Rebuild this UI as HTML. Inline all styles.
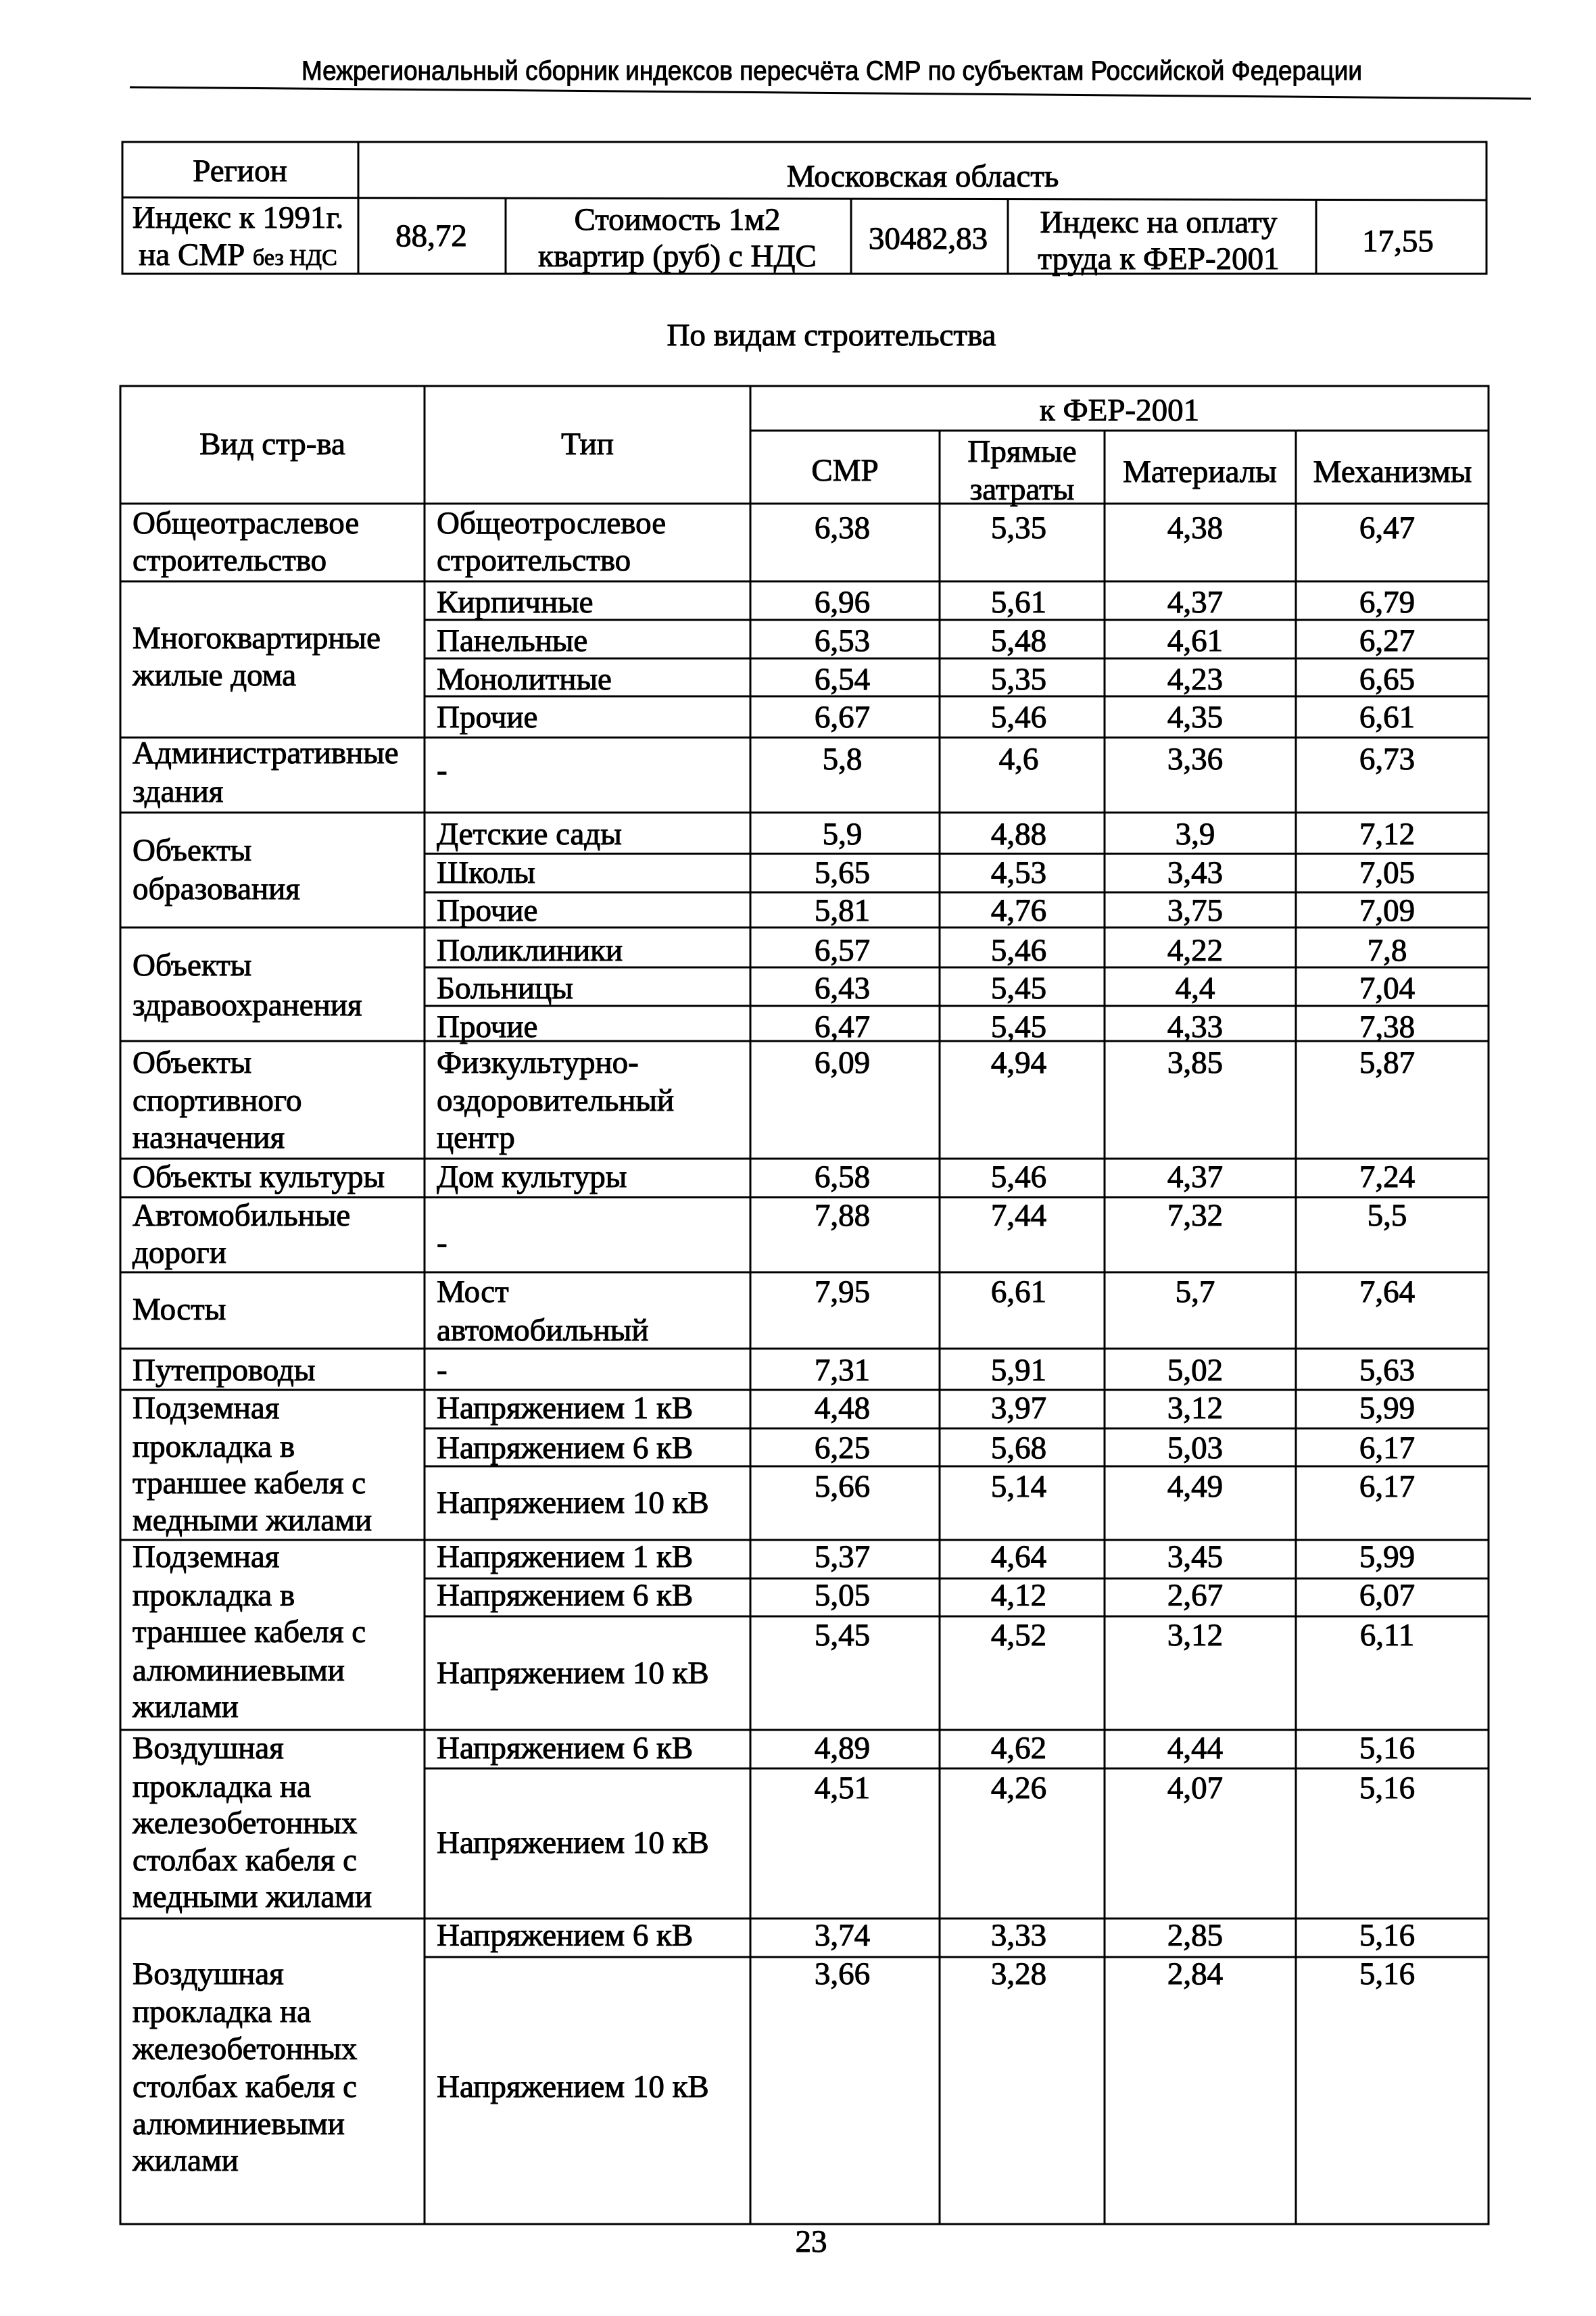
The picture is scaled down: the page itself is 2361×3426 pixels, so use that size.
<!DOCTYPE html>
<html><head><meta charset="utf-8"><style>html,body{margin:0;padding:0;background:#fff}svg{display:block}</style></head>
<body>
<svg xmlns="http://www.w3.org/2000/svg" width="2361" height="3426" viewBox="0 0 2361 3426" font-family="'Liberation Serif','Noto Serif CJK SC',serif" font-size="47" fill="#000">
<rect width="2361" height="3426" fill="#fff"/>
<g stroke="#000" stroke-width="1">
<text x="446" y="118" font-family="'Liberation Sans',sans-serif" font-size="40" textLength="1569" lengthAdjust="spacingAndGlyphs">Межрегиональный сборник индексов пересчёта СМР  по субъектам Российской Федерации</text>
</g>
<line x1="192" y1="129" x2="2265" y2="146" stroke="#000" stroke-width="3"/>
<g stroke="#000" stroke-width="3">
<rect x="181" y="210" width="2018" height="195" fill="none"/>
<line x1="181" y1="292" x2="2199" y2="296"/>
<line x1="530" y1="210" x2="530" y2="405"/>
<line x1="748" y1="294" x2="748" y2="405"/>
<line x1="1259" y1="294" x2="1259" y2="405"/>
<line x1="1491" y1="294" x2="1491" y2="405"/>
<line x1="1947" y1="294" x2="1947" y2="405"/>
</g>
<g stroke="#000" stroke-width="1">
<g text-anchor="middle">
<text x="355" y="268">Регион</text>
<text x="1365" y="276">Московская область</text>
<text x="352" y="337">Индекс к 1991г.</text>
<text x="352" y="392">на СМР <tspan font-size="34">без НДС</tspan></text>
<text x="638" y="364">88,72</text>
<text x="1002" y="340">Стоимость 1м2</text>
<text x="1002" y="394">квартир (руб) с НДС</text>
<text x="1373" y="368">30482,83</text>
<text x="1714" y="344">Индекс на оплату</text>
<text x="1714" y="398">труда к ФЕР-2001</text>
<text x="2068" y="372">17,55</text>
<text x="1230" y="511">По видам строительства</text>
</g>
</g>
<g stroke="#000" stroke-width="3" fill="none">
<rect x="178" y="571" width="2024" height="2719"/>
<line x1="628" y1="571" x2="628" y2="3290"/>
<line x1="1110" y1="571" x2="1110" y2="3290"/>
<line x1="1390" y1="637" x2="1390" y2="3290"/>
<line x1="1634" y1="637" x2="1634" y2="3290"/>
<line x1="1917" y1="637" x2="1917" y2="3290"/>
<line x1="1110" y1="637" x2="2202" y2="637"/>
<path d="M178 745H2202M178 860H2202M178 1091H2202M178 1202H2202M178 1372H2202M178 1540H2202M178 1714H2202M178 1771H2202M178 1882H2202M178 1995H2202M178 2056H2202M178 2278H2202M178 2559H2202M178 2838H2202"/>
<path d="M628 917H2202M628 974H2202M628 1030H2202M628 1263H2202M628 1320H2202M628 1431H2202M628 1488H2202M628 2113H2202M628 2169H2202M628 2335H2202M628 2391H2202M628 2616H2202M628 2895H2202"/>
</g>
<g stroke="#000" stroke-width="1">
<g text-anchor="middle">
<text x="403" y="672">Вид стр-ва</text>
<text x="869" y="672">Тип</text>
<text x="1656" y="622">к ФЕР-2001</text>
<text x="1250" y="711">СМР</text>
<text x="1512" y="683">Прямые</text>
<text x="1512" y="739">затраты</text>
<text x="1775" y="713">Материалы</text>
<text x="2060" y="713">Механизмы</text>
</g>
<g>
<text x="196" y="789">Общеотраслевое</text>
<text x="196" y="844">строительство</text>
<text x="646" y="789">Общеотрослевое</text>
<text x="646" y="844">строительство</text>
<text x="196" y="959">Многоквартирные</text>
<text x="196" y="1014">жилые дома</text>
<text x="646" y="906">Кирпичные</text>
<text x="646" y="963">Панельные</text>
<text x="646" y="1020">Монолитные</text>
<text x="646" y="1076">Прочие</text>
<text x="196" y="1129">Административные</text>
<text x="196" y="1186">здания</text>
<text x="646" y="1155">-</text>
<text x="196" y="1273">Объекты</text>
<text x="196" y="1330">образования</text>
<text x="646" y="1249">Детские сады</text>
<text x="646" y="1306">Школы</text>
<text x="646" y="1362">Прочие</text>
<text x="196" y="1443">Объекты</text>
<text x="196" y="1502">здравоохранения</text>
<text x="646" y="1421">Поликлиники</text>
<text x="646" y="1477">Больницы</text>
<text x="646" y="1534">Прочие</text>
<text x="196" y="1587">Объекты</text>
<text x="196" y="1643">спортивного</text>
<text x="196" y="1698">назначения</text>
<text x="646" y="1587">Физкультурно-</text>
<text x="646" y="1643">оздоровительный</text>
<text x="646" y="1698">центр</text>
<text x="196" y="1756">Объекты культуры</text>
<text x="646" y="1756">Дом культуры</text>
<text x="196" y="1813">Автомобильные</text>
<text x="196" y="1868">дороги</text>
<text x="646" y="1854">-</text>
<text x="196" y="1952">Мосты</text>
<text x="646" y="1926">Мост</text>
<text x="646" y="1983">автомобильный</text>
<text x="196" y="2042">Путепроводы</text>
<text x="646" y="2042">-</text>
<text x="196" y="2098">Подземная</text>
<text x="196" y="2155">прокладка в</text>
<text x="196" y="2209">траншее кабеля с</text>
<text x="196" y="2264">медными жилами</text>
<text x="646" y="2098">Напряжением 1 кВ</text>
<text x="646" y="2157">Напряжением 6 кВ</text>
<text x="646" y="2238">Напряжением 10 кВ</text>
<text x="196" y="2318">Подземная</text>
<text x="196" y="2375">прокладка в</text>
<text x="196" y="2429">траншее кабеля  с</text>
<text x="196" y="2486">алюминиевыми</text>
<text x="196" y="2540">жилами</text>
<text x="646" y="2318">Напряжением 1 кВ</text>
<text x="646" y="2375">Напряжением 6 кВ</text>
<text x="646" y="2490">Напряжением 10 кВ</text>
<text x="196" y="2601">Воздушная</text>
<text x="196" y="2658">прокладка на</text>
<text x="196" y="2712">железобетонных</text>
<text x="196" y="2767">столбах кабеля с</text>
<text x="196" y="2821">медными жилами</text>
<text x="646" y="2601">Напряжением 6 кВ</text>
<text x="646" y="2741">Напряжением 10 кВ</text>
<text x="196" y="2935">Воздушная</text>
<text x="196" y="2991">прокладка на</text>
<text x="196" y="3046">железобетонных</text>
<text x="196" y="3102">столбах кабеля с</text>
<text x="196" y="3157">алюминиевыми</text>
<text x="196" y="3211">жилами</text>
<text x="646" y="2878">Напряжением 6 кВ</text>
<text x="646" y="3102">Напряжением 10 кВ</text>
</g>
<g text-anchor="middle">
<g transform="translate(0,796)"><text x="1246">6,38</text><text x="1507">5,35</text><text x="1768">4,38</text><text x="2052">6,47</text></g>
<g transform="translate(0,906)"><text x="1246">6,96</text><text x="1507">5,61</text><text x="1768">4,37</text><text x="2052">6,79</text></g>
<g transform="translate(0,963)"><text x="1246">6,53</text><text x="1507">5,48</text><text x="1768">4,61</text><text x="2052">6,27</text></g>
<g transform="translate(0,1020)"><text x="1246">6,54</text><text x="1507">5,35</text><text x="1768">4,23</text><text x="2052">6,65</text></g>
<g transform="translate(0,1076)"><text x="1246">6,67</text><text x="1507">5,46</text><text x="1768">4,35</text><text x="2052">6,61</text></g>
<g transform="translate(0,1138)"><text x="1246">5,8</text><text x="1507">4,6</text><text x="1768">3,36</text><text x="2052">6,73</text></g>
<g transform="translate(0,1249)"><text x="1246">5,9</text><text x="1507">4,88</text><text x="1768">3,9</text><text x="2052">7,12</text></g>
<g transform="translate(0,1306)"><text x="1246">5,65</text><text x="1507">4,53</text><text x="1768">3,43</text><text x="2052">7,05</text></g>
<g transform="translate(0,1362)"><text x="1246">5,81</text><text x="1507">4,76</text><text x="1768">3,75</text><text x="2052">7,09</text></g>
<g transform="translate(0,1421)"><text x="1246">6,57</text><text x="1507">5,46</text><text x="1768">4,22</text><text x="2052">7,8</text></g>
<g transform="translate(0,1477)"><text x="1246">6,43</text><text x="1507">5,45</text><text x="1768">4,4</text><text x="2052">7,04</text></g>
<g transform="translate(0,1534)"><text x="1246">6,47</text><text x="1507">5,45</text><text x="1768">4,33</text><text x="2052">7,38</text></g>
<g transform="translate(0,1587)"><text x="1246">6,09</text><text x="1507">4,94</text><text x="1768">3,85</text><text x="2052">5,87</text></g>
<g transform="translate(0,1756)"><text x="1246">6,58</text><text x="1507">5,46</text><text x="1768">4,37</text><text x="2052">7,24</text></g>
<g transform="translate(0,1813)"><text x="1246">7,88</text><text x="1507">7,44</text><text x="1768">7,32</text><text x="2052">5,5</text></g>
<g transform="translate(0,1926)"><text x="1246">7,95</text><text x="1507">6,61</text><text x="1768">5,7</text><text x="2052">7,64</text></g>
<g transform="translate(0,2042)"><text x="1246">7,31</text><text x="1507">5,91</text><text x="1768">5,02</text><text x="2052">5,63</text></g>
<g transform="translate(0,2098)"><text x="1246">4,48</text><text x="1507">3,97</text><text x="1768">3,12</text><text x="2052">5,99</text></g>
<g transform="translate(0,2157)"><text x="1246">6,25</text><text x="1507">5,68</text><text x="1768">5,03</text><text x="2052">6,17</text></g>
<g transform="translate(0,2214)"><text x="1246">5,66</text><text x="1507">5,14</text><text x="1768">4,49</text><text x="2052">6,17</text></g>
<g transform="translate(0,2318)"><text x="1246">5,37</text><text x="1507">4,64</text><text x="1768">3,45</text><text x="2052">5,99</text></g>
<g transform="translate(0,2375)"><text x="1246">5,05</text><text x="1507">4,12</text><text x="1768">2,67</text><text x="2052">6,07</text></g>
<g transform="translate(0,2434)"><text x="1246">5,45</text><text x="1507">4,52</text><text x="1768">3,12</text><text x="2052">6,11</text></g>
<g transform="translate(0,2601)"><text x="1246">4,89</text><text x="1507">4,62</text><text x="1768">4,44</text><text x="2052">5,16</text></g>
<g transform="translate(0,2660)"><text x="1246">4,51</text><text x="1507">4,26</text><text x="1768">4,07</text><text x="2052">5,16</text></g>
<g transform="translate(0,2878)"><text x="1246">3,74</text><text x="1507">3,33</text><text x="1768">2,85</text><text x="2052">5,16</text></g>
<g transform="translate(0,2935)"><text x="1246">3,66</text><text x="1507">3,28</text><text x="1768">2,84</text><text x="2052">5,16</text></g>
<text x="1200" y="3331">23</text>
</g>
</g>
</svg>
</body></html>
